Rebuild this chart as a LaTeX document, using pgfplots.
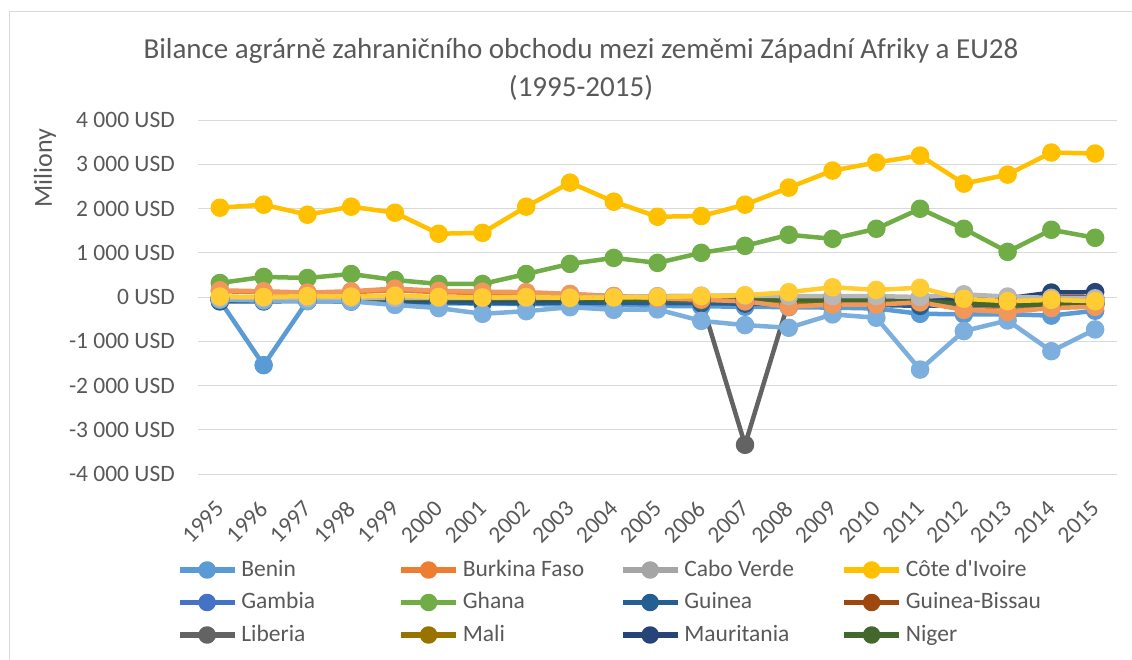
\documentclass[border=0pt]{standalone}
\usepackage{fontspec}
\setmainfont{Carlito}
\usepackage{pgfplots}
\usepackage{pgfplotstable}
\pgfplotsset{compat=1.18}

\definecolor{txt}{HTML}{595959}
\definecolor{gridc}{HTML}{D9D9D9}
\definecolor{cBenin}{HTML}{5B9BD5}
\definecolor{cBurkina}{HTML}{ED7D31}
\definecolor{cCabo}{HTML}{A5A5A5}
\definecolor{cCote}{HTML}{FFC000}
\definecolor{cGambia}{HTML}{4472C4}
\definecolor{cGhana}{HTML}{70AD47}
\definecolor{cGuinea}{HTML}{255E91}
\definecolor{cGB}{HTML}{9E480E}
\definecolor{cLiberia}{HTML}{636363}
\definecolor{cMali}{HTML}{997300}
\definecolor{cMaur}{HTML}{264478}
\definecolor{cNiger}{HTML}{43682B}
\definecolor{cNigeria}{HTML}{7CAFDD}
\definecolor{cSenegal}{HTML}{F1975A}
\definecolor{cSL}{HTML}{B7B7B7}
\definecolor{cTogo}{HTML}{FFCD33}

% millions USD, 1995..2015 (i = 0..20)
\pgfplotstableread{
i Benin Burkina Cabo Cote Gambia Ghana Guinea GB Liberia Mali Maur Niger Nigeria Senegal SL Togo
0 -80 130 -60 2018 -20 317 -100 -10 -50 -40 -60 -40 -60 150 -20 10
1 -1540 110 -60 2086 -30 454 -100 -10 -60 -40 -60 -50 -80 130 -20 0
2 -90 80 -60 1860 -20 430 -90 -10 -60 -40 -60 -50 -90 100 -20 20
3 -100 110 -60 2041 -30 520 -100 -10 -50 -40 -60 -50 -100 130 -20 10
4 -120 150 -60 1905 -30 385 -110 -10 -50 -40 -60 -50 -180 190 -20 30
5 -140 110 -70 1430 -30 295 -120 -10 -60 -50 -70 -50 -250 140 -20 0
6 -150 90 -70 1450 -40 295 -130 -10 -70 -50 -70 -50 -380 120 -20 -10
7 -160 90 -70 2041 -40 520 -140 -10 -70 -60 -70 -50 -320 110 -20 0
8 -170 60 -70 2585 -40 748 -130 -10 -60 -50 -70 -50 -230 70 -10 -20
9 -180 20 -70 2154 -40 884 -130 -10 -60 -60 -60 -60 -290 20 0 -10
10 -200 -10 -70 1814 -40 771 -140 -10 -60 -60 -60 -60 -280 -30 20 0
11 -210 -30 -80 1830 -40 998 -140 -10 -80 -70 -60 -60 -540 -60 30 20
12 -220 -50 -80 2086 -50 1156 -150 -10 -3340 -80 -60 -60 -635 -100 30 40
13 -230 -120 -80 2472 -50 1406 -170 -10 -90 -100 -60 -70 -695 -220 20 110
14 -240 -100 -80 2857 -50 1315 -160 -10 -90 -120 -60 -80 -393 -170 20 220
15 -260 -100 -80 3039 -50 1542 -180 -10 -100 -150 -50 -80 -469 -170 20 160
16 -380 -90 -80 3197 -50 1995 -200 -10 -100 -120 -50 -100 -1640 -120 0 210
17 -390 -200 -70 2562 -60 1542 -180 -10 -110 -130 -40 -150 -770 -290 60 -40
18 -390 -230 -70 2766 -60 1020 -190 -10 -90 -150 -30 -180 -530 -340 10 -95
19 -420 -200 -70 3265 -60 1519 -180 -10 -100 -140 100 -170 -1224 -250 -20 -65
20 -310 -170 -70 3243 -60 1338 -170 -10 -100 -130 110 -160 -733 -220 -30 -95
}\data

\pgfplotsset{
  ser/.style={color=#1, line width=4.5pt, line join=round, mark=*, mark size=7pt,
    mark options={draw=none, fill=#1}},
}
\newcommand{\lbl}[1]{\makebox[157pt][l]{#1}}

\begin{document}
\begin{tikzpicture}
\clip (0pt,0pt) rectangle (1132pt,659pt);
\draw[gridc, line width=1pt] (9.5pt,-20pt) rectangle (1150pt,647.5pt);
\node[text=txt, font=\fontsize{29}{38}\selectfont, align=center] at (581pt,590pt)
  {Bilance agrárně zahraničního obchodu mezi zeměmi Západní Afriky a EU28\\(1995-2015)};
\node[text=txt, font=\fontsize{26}{30}\selectfont, rotate=90] at (45pt,491pt) {Miliony};
\begin{axis}[
  at={(198pt,185pt)}, anchor=south west,
  scale only axis, width=919pt, height=354pt,
  xmin=-0.5, xmax=20.5, ymin=-4000, ymax=4000,
  axis line style={draw=none}, tick style={draw=none},
  ymajorgrids, grid style={gridc, line width=1pt},
  xtick={0,...,20},
  xticklabels={1995,1996,1997,1998,1999,2000,2001,2002,2003,2004,2005,2006,2007,2008,2009,2010,2011,2012,2013,2014,2015},
  ytick={-4000,-3000,...,4000},
  yticklabels={-4 000 USD,-3 000 USD,-2 000 USD,-1 000 USD,0 USD,1 000 USD,2 000 USD,3 000 USD,4 000 USD},
  xticklabel style={text=txt, font=\fontsize{23.5}{28}\selectfont, inner sep=0pt, yshift=-31pt, rotate=45, anchor=east},
  yticklabel style={text=txt, font=\fontsize{23.5}{28}\selectfont, inner sep=0pt, anchor=east, xshift=-23pt},
  clip=false,
  legend columns=4,
  legend cell align=left,
  legend style={at={(-0.0230,-0.2415)}, anchor=north west, draw=none, fill=none,
    inner sep=0pt, outer sep=0pt, text=txt, font=\fontsize{23.5}{28}\selectfont,
    nodes={inner sep=0pt, text height=17pt, text depth=4pt},
    column sep=0pt, row sep=11.5pt,
    /tikz/every odd column/.append style={column sep=4pt}},
  legend image code/.code={
    \draw[mark repeat=2, mark phase=2, #1, line width=5.5pt, mark size=6pt] plot coordinates {(0pt,0pt) (27.5pt,0pt) (55pt,0pt)};
  },
]
\addplot[ser=cBenin] table[x=i, y=Benin] {\data}; \addlegendentry{\lbl{Benin}}
\addplot[ser=cBurkina] table[x=i, y=Burkina] {\data}; \addlegendentry{\lbl{Burkina Faso}}
\addplot[ser=cCabo] table[x=i, y=Cabo] {\data}; \addlegendentry{\lbl{Cabo Verde}}
\addplot[ser=cCote] table[x=i, y=Cote] {\data}; \addlegendentry{\lbl{Côte d\textquotesingle Ivoire}}
\addplot[ser=cGambia] table[x=i, y=Gambia] {\data}; \addlegendentry{\lbl{Gambia}}
\addplot[ser=cGhana] table[x=i, y=Ghana] {\data}; \addlegendentry{\lbl{Ghana}}
\addplot[ser=cGuinea] table[x=i, y=Guinea] {\data}; \addlegendentry{\lbl{Guinea}}
\addplot[ser=cGB] table[x=i, y=GB] {\data}; \addlegendentry{\lbl{Guinea-Bissau}}
\addplot[ser=cLiberia] table[x=i, y=Liberia] {\data}; \addlegendentry{\lbl{Liberia}}
\addplot[ser=cMali] table[x=i, y=Mali] {\data}; \addlegendentry{\lbl{Mali}}
\addplot[ser=cMaur] table[x=i, y=Maur] {\data}; \addlegendentry{\lbl{Mauritania}}
\addplot[ser=cNiger] table[x=i, y=Niger] {\data}; \addlegendentry{\lbl{Niger}}
\addplot[ser=cNigeria, forget plot] table[x=i, y=Nigeria] {\data};
\addplot[ser=cSenegal, forget plot] table[x=i, y=Senegal] {\data};
\addplot[ser=cSL, forget plot] table[x=i, y=SL] {\data};
\addplot[ser=cTogo, forget plot] table[x=i, y=Togo] {\data};
\end{axis}
\end{tikzpicture}
\end{document}
